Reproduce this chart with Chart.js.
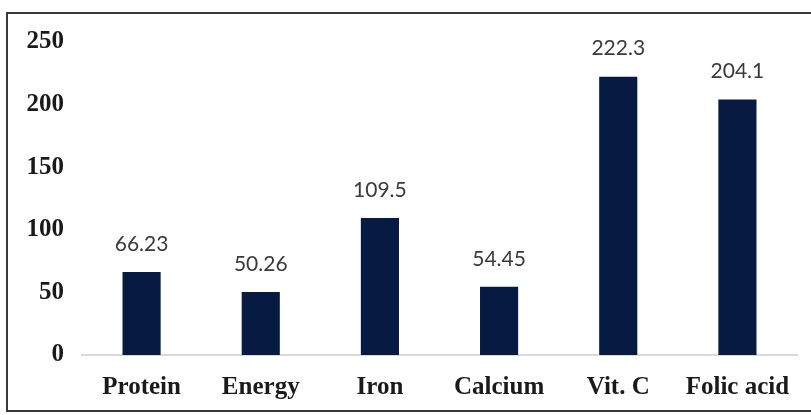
<!DOCTYPE html>
<html>
<head>
<meta charset="utf-8">
<script src="https://cdn.jsdelivr.net/npm/chart.js@4/dist/chart.umd.min.js"></script>
<style>
  html, body { margin: 0; padding: 0; background: #ffffff; }
  #wrap { position: relative; width: 811px; height: 415px; overflow: hidden; }
  #frame { position: absolute; left: 6px; top: 12px; width: 830px; height: 396px; border: 2px solid #3a3a3a; }
  canvas { position: absolute; left: 0; top: 0; }
</style>
</head>
<body>
<div id="wrap">
  <div id="frame"></div>
  <canvas id="c" width="811" height="415"></canvas>
</div>
<script>
const categories = ["Protein", "Energy", "Iron", "Calcium", "Vit. C", "Folic acid"];
const values = [66.23, 50.26, 109.5, 54.45, 222.3, 204.1];
const valueLabels = ["66.23", "50.26", "109.5", "54.45", "222.3", "204.1"];
const yTicks = [0, 50, 100, 150, 200, 250];

const labelPlugin = {
  id: 'valueLabels',
  afterDatasetsDraw(chart) {
    const ctx = chart.ctx;
    const meta = chart.getDatasetMeta(0);
    ctx.save();
    ctx.font = '21px Lato, "Open Sans", sans-serif';
    ctx.fillStyle = '#3a3a3a';
    ctx.textAlign = 'center';
    ctx.textBaseline = 'middle';
    meta.data.forEach((bar, i) => {
      ctx.fillText(valueLabels[i], bar.x, bar.y - 28);
    });
    ctx.restore();
  }
};

new Chart(document.getElementById('c'), {
  type: 'bar',
  data: {
    labels: categories,
    datasets: [{
      data: values,
      backgroundColor: '#061a42',
      barPercentage: 0.32,
      categoryPercentage: 1.0
    }]
  },
  options: {
    responsive: false,
    animation: false,
    layout: { padding: { top: 42, right: 14, bottom: 0, left: 0 } },
    plugins: { legend: { display: false }, tooltip: { enabled: false } },
    scales: {
      x: {
        grid: { display: false, drawTicks: false },
        border: { display: true, color: '#d9d9d9', width: 2 },
        ticks: {
          color: '#1a1a1a',
          padding: 18,
          font: { family: '"Liberation Serif", "Times New Roman", serif', size: 25, weight: 'bold' }
        },
        afterFit(scale) { scale.height = 60; }
      },
      y: {
        min: 0, max: 250,
        afterBuildTicks(scale) { scale.ticks = yTicks.map(v => ({ value: v })); },
        grid: { display: false, drawTicks: false },
        border: { display: false },
        ticks: {
          color: '#1a1a1a',
          padding: 18,
          font: { family: '"Liberation Serif", "Times New Roman", serif', size: 25, weight: 'bold' }
        },
        afterFit(scale) { scale.width = 82; }
      }
    }
  },
  plugins: [labelPlugin]
});
</script>
</body>
</html>
